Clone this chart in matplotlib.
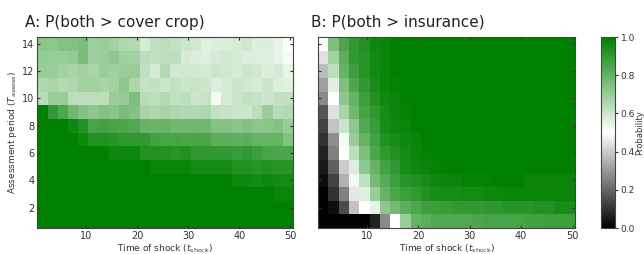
import numpy as np
import matplotlib
matplotlib.use("Agg")
import matplotlib.pyplot as plt
from matplotlib.colors import LinearSegmentedColormap

# shock times (column edges) and assessment periods (row edges)
shock_edges = list(range(0, 51, 2))
shock_edges = [e + 0.5 for e in shock_edges]
assess_edges = [a + 0.5 for a in range(0, 15)]

# P(both > cover crop), rows from assessment period 1 (bottom) to 14 (top)
p_cover = [
    [1.00] * 25,
    [1.00] * 25,
    [1.00] * 23 + [0.98, 0.98],
    [1.00] * 19 + [0.97, 0.97, 0.96, 0.97, 0.96, 0.96],
    [1.00] * 11 + [0.98, 0.98, 0.98, 0.98, 0.96, 0.96, 0.96, 0.96, 0.93, 0.93, 0.92, 0.93, 0.92, 0.92],
    [1.00] * 7 + [0.97, 0.97, 0.97, 0.93, 0.93, 0.93, 0.92, 0.93, 0.90, 0.90, 0.90, 0.90, 0.89, 0.90,
                  0.88, 0.86, 0.85, 0.85],
    [1.00, 1.00, 1.00, 1.00, 0.97, 0.93, 0.93, 0.92, 0.90, 0.90, 0.90, 0.87, 0.86, 0.86, 0.85,
     0.86, 0.85, 0.82, 0.82, 0.81, 0.82, 0.80, 0.80, 0.80, 0.74],
    [1.00, 1.00, 1.00, 0.97, 0.93, 0.86, 0.87, 0.86, 0.85, 0.84, 0.80, 0.79, 0.80, 0.78, 0.78,
     0.78, 0.78, 0.74, 0.74, 0.73, 0.74, 0.72, 0.73, 0.74, 0.70],
    [1.00, 0.90, 0.85, 0.78, 0.74, 0.72, 0.74, 0.73, 0.76, 0.74, 0.67, 0.66, 0.67, 0.66, 0.65,
     0.65, 0.66, 0.62, 0.61, 0.60, 0.60, 0.63, 0.70, 0.64, 0.65],
    [0.64, 0.70, 0.70, 0.63, 0.63, 0.63, 0.63, 0.70, 0.71, 0.75, 0.64, 0.63, 0.65, 0.62, 0.63,
     0.60, 0.61, 0.52, 0.58, 0.60, 0.62, 0.61, 0.60, 0.62, 0.62],
    [0.66, 0.67, 0.65, 0.66, 0.68, 0.68, 0.67, 0.68, 0.72, 0.66, 0.61, 0.62, 0.60, 0.62, 0.60,
     0.61, 0.60, 0.57, 0.58, 0.60, 0.59, 0.58, 0.60, 0.57, 0.56],
    [0.70, 0.70, 0.68, 0.67, 0.68, 0.67, 0.70, 0.69, 0.70, 0.70, 0.62, 0.58, 0.65, 0.59, 0.59,
     0.59, 0.58, 0.60, 0.59, 0.58, 0.60, 0.59, 0.57, 0.58, 0.54],
    [0.71, 0.70, 0.70, 0.71, 0.76, 0.69, 0.70, 0.72, 0.69, 0.68, 0.63, 0.62, 0.63, 0.63, 0.58,
     0.57, 0.56, 0.58, 0.59, 0.58, 0.57, 0.57, 0.56, 0.55, 0.52],
    [0.73, 0.72, 0.74, 0.74, 0.76, 0.69, 0.70, 0.68, 0.66, 0.65, 0.58, 0.62, 0.63, 0.62, 0.60,
     0.59, 0.56, 0.57, 0.57, 0.58, 0.59, 0.57, 0.57, 0.55, 0.50],
]

# P(both > insurance), rows from assessment period 1 (bottom) to 14 (top)
p_insure = [
    [0.00, 0.00, 0.00, 0.00, 0.00, 0.07, 0.27, 0.50, 0.70, 0.80, 0.82, 0.84, 0.84, 0.84, 0.84,
     0.85, 0.86, 0.86, 0.86, 0.86, 0.87, 0.87, 0.88, 0.88, 0.88],
    [0.00, 0.03, 0.15, 0.38, 0.50, 0.55, 0.72, 0.77, 0.82, 0.85, 0.88, 0.88, 0.89, 0.90, 0.90,
     0.90, 0.91, 0.91, 0.92, 0.92, 0.92, 0.93, 0.93, 0.95, 0.95],
    [0.00, 0.10, 0.25, 0.45, 0.56, 0.70, 0.80, 0.85, 0.88, 0.90, 0.93, 0.95, 0.95, 0.95, 0.96,
     0.96, 0.97, 0.97, 0.98, 0.98, 0.98, 0.98, 0.98, 0.98, 0.98],
    [0.03, 0.13, 0.35, 0.53, 0.62, 0.77, 0.83, 0.88, 0.92, 0.93, 0.95, 0.97, 0.98, 0.98, 0.99,
     0.99, 0.99, 1.00, 1.00, 1.00, 0.98, 0.98, 0.98, 0.98, 0.98],
    [0.05, 0.19, 0.40, 0.57, 0.72, 0.80, 0.87, 0.90, 0.95, 0.97, 0.98, 0.99, 1.00, 1.00, 1.00,
     1.00, 1.00, 1.00, 1.00, 1.00, 1.00, 1.00, 1.00, 1.00, 1.00],
    [0.07, 0.25, 0.50, 0.63, 0.75, 0.85, 0.90, 0.93, 0.96, 0.98, 0.99, 1.00, 1.00, 1.00, 1.00,
     1.00, 1.00, 1.00, 1.00, 1.00, 1.00, 1.00, 1.00, 1.00, 1.00],
    [0.10, 0.28, 0.52, 0.70, 0.80, 0.87, 0.93, 0.95, 0.97, 0.98, 1.00, 1.00, 1.00, 1.00, 1.00,
     1.00, 1.00, 1.00, 1.00, 1.00, 1.00, 1.00, 1.00, 1.00, 1.00],
    [0.13, 0.38, 0.60, 0.72, 0.84, 0.89, 0.95, 0.97, 0.98, 1.00, 1.00, 1.00, 1.00, 1.00, 1.00,
     1.00, 1.00, 1.00, 1.00, 1.00, 1.00, 1.00, 1.00, 1.00, 1.00],
    [0.17, 0.44, 0.67, 0.78, 0.86, 0.91, 0.95, 0.98, 0.99, 1.00, 1.00, 1.00, 1.00, 1.00, 1.00,
     1.00, 1.00, 1.00, 1.00, 1.00, 1.00, 1.00, 1.00, 1.00, 1.00],
    [0.27, 0.50, 0.72, 0.80, 0.88, 0.93, 0.97, 0.98, 1.00, 1.00, 1.00, 1.00, 1.00, 1.00, 1.00,
     1.00, 1.00, 1.00, 1.00, 1.00, 1.00, 1.00, 1.00, 1.00, 1.00],
    [0.31, 0.56, 0.75, 0.85, 0.90, 0.95, 0.98, 0.99, 1.00, 1.00, 1.00, 1.00, 1.00, 1.00, 1.00,
     1.00, 1.00, 1.00, 1.00, 1.00, 1.00, 1.00, 1.00, 1.00, 1.00],
    [0.37, 0.63, 0.80, 0.88, 0.92, 0.96, 0.98, 1.00, 1.00, 1.00, 1.00, 1.00, 1.00, 1.00, 1.00,
     1.00, 1.00, 1.00, 1.00, 1.00, 1.00, 1.00, 1.00, 1.00, 1.00],
    [0.44, 0.68, 0.82, 0.90, 0.92, 0.96, 0.98, 1.00, 1.00, 1.00, 1.00, 1.00, 1.00, 1.00, 1.00,
     1.00, 1.00, 1.00, 1.00, 1.00, 1.00, 1.00, 1.00, 1.00, 1.00],
    [0.50, 0.75, 0.85, 0.90, 0.93, 0.97, 0.98, 1.00, 1.00, 1.00, 1.00, 1.00, 1.00, 1.00, 1.00,
     1.00, 1.00, 1.00, 1.00, 1.00, 1.00, 1.00, 1.00, 1.00, 1.00],
]

titles = ["A: P(both > cover crop)", "B: P(both > insurance)"]
x_ticks = [10, 20, 30, 40, 50]
y_ticks = [2, 4, 6, 8, 10, 12, 14]
cbar_ticks = [0.0, 0.2, 0.4, 0.6, 0.8, 1.0]

cmap = LinearSegmentedColormap.from_list("bwg", ["black", "white", "green"])

fig = plt.figure(figsize=(6.44, 2.54), dpi=100)
ax_a = fig.add_axes([0.058, 0.102, 0.397, 0.752])
ax_b = fig.add_axes([0.494, 0.102, 0.399, 0.752])
cax = fig.add_axes([0.934, 0.102, 0.021, 0.752])

for ax, data, title, tx in [(ax_a, p_cover, titles[0], 0.039), (ax_b, p_insure, titles[1], 0.483)]:
    mesh = ax.pcolormesh(shock_edges, assess_edges, np.array(data), cmap=cmap, vmin=0, vmax=1)
    ax.set_xlim(shock_edges[0], shock_edges[-1])
    ax.set_ylim(assess_edges[0], assess_edges[-1])
    ax.set_xticks(x_ticks)
    ax.set_yticks(y_ticks)
    ax.tick_params(labelsize=7, length=2, direction="in", colors="#333333",
                   top=True, right=True, pad=2)
    ax.set_xlabel(r"Time of shock ($t_{\mathrm{shock}}$)", fontsize=6.5, labelpad=1, color="#333333")
    for s in ax.spines.values():
        s.set_color("#444444")
        s.set_linewidth(0.8)
    fig.text(tx, 0.894, title, fontsize=11, va="baseline", ha="left", color="#222222")

ax_a.set_ylabel(r"Assessment period ($T_{\mathrm{assess}}$)", fontsize=6.5, labelpad=2, color="#333333")
ax_b.tick_params(labelleft=False)

cb = fig.colorbar(mesh, cax=cax, ticks=cbar_ticks)
cb.ax.tick_params(labelsize=6.5, length=2, colors="#333333", pad=2)
cb.outline.set_edgecolor("#444444")
cb.outline.set_linewidth(0.8)
cb.set_label("Probability", fontsize=6, color="#333333", labelpad=0)

fig.savefig("out.png", dpi=100)
